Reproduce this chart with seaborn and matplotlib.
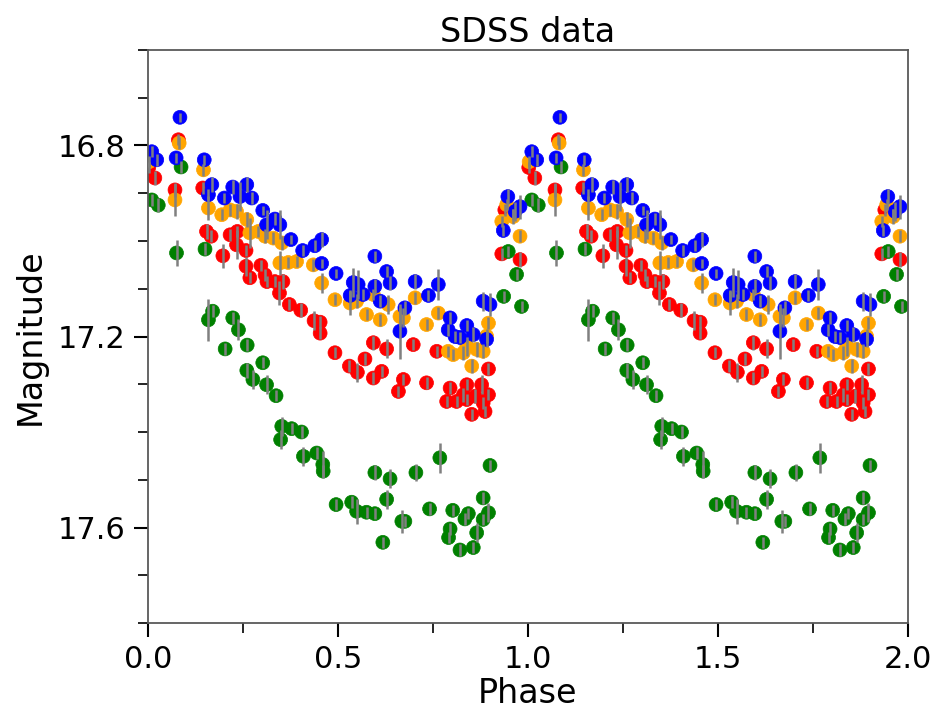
import numpy as np
import pandas as pd
import matplotlib
matplotlib.use("Agg")
import matplotlib.pyplot as plt
import seaborn as sns
from matplotlib.ticker import MultipleLocator

# ---- data (one cycle, phase in [0,1); plotted twice: phase and phase+1) ----
blue_phase = [0.010, 0.023, 0.084, 0.074, 0.148, 0.168, 0.159, 0.201, 0.223, 0.242,
              0.260, 0.273, 0.302, 0.312, 0.334, 0.347, 0.376, 0.407, 0.439, 0.457,
              0.457, 0.495, 0.532, 0.540, 0.553, 0.566, 0.597, 0.597, 0.611, 0.628,
              0.637, 0.663, 0.676, 0.703, 0.738, 0.764, 0.790, 0.795, 0.808, 0.821,
              0.839, 0.856, 0.882, 0.891, 0.900, 0.935, 0.947, 0.966, 0.979]
blue_mag = [16.813, 16.830, 16.741, 16.826, 16.830, 16.882, 16.903, 16.910, 16.887, 16.907,
            16.882, 16.910, 16.936, 16.966, 16.954, 16.966, 16.997, 17.020, 17.010, 16.997,
            17.047, 17.068, 17.114, 17.087, 17.091, 17.112, 17.032, 17.095, 17.126, 17.064,
            17.088, 17.189, 17.140, 17.085, 17.114, 17.091, 17.186, 17.161, 17.200, 17.202,
            17.177, 17.196, 17.126, 17.206, 17.133, 16.978, 16.907, 16.938, 16.928]
blue_err = [0.012, 0.012, 0.010, 0.010, 0.010, 0.015, 0.012, 0.010, 0.015, 0.030,
            0.015, 0.012, 0.010, 0.030, 0.012, 0.030, 0.010, 0.012, 0.012, 0.015,
            0.010, 0.010, 0.012, 0.030, 0.030, 0.012, 0.012, 0.015, 0.012, 0.012,
            0.015, 0.058, 0.015, 0.015, 0.012, 0.033, 0.012, 0.012, 0.012, 0.012,
            0.012, 0.015, 0.020, 0.015, 0.025, 0.012, 0.015, 0.020, 0.025]

orange_phase = [0.003, 0.071, 0.082, 0.146, 0.159, 0.194, 0.216, 0.233, 0.260, 0.268,
                0.290, 0.308, 0.330, 0.347, 0.352, 0.369, 0.391, 0.435, 0.457, 0.492,
                0.532, 0.549, 0.575, 0.593, 0.611, 0.632, 0.663, 0.672, 0.703, 0.733,
                0.764, 0.790, 0.803, 0.830, 0.839, 0.852, 0.865, 0.882, 0.891, 0.896,
                0.931, 0.944, 0.961, 0.979]
orange_mag = [16.834, 16.914, 16.795, 16.851, 16.931, 16.945, 16.935, 16.938, 16.955, 16.983,
              16.980, 16.990, 16.994, 17.046, 17.004, 17.045, 17.043, 17.050, 17.088, 17.123,
              17.130, 17.126, 17.154, 17.112, 17.165, 17.133, 17.158, 17.161, 17.119, 17.175,
              17.151, 17.231, 17.238, 17.234, 17.220, 17.262, 17.227, 17.231, 17.199, 17.172,
              16.959, 16.924, 16.949, 16.990]
orange_err = [0.012, 0.033, 0.012, 0.012, 0.025, 0.012, 0.012, 0.015, 0.015, 0.031,
              0.012, 0.015, 0.012, 0.025, 0.015, 0.012, 0.012, 0.012, 0.020, 0.012,
              0.025, 0.015, 0.012, 0.012, 0.012, 0.020, 0.020, 0.020, 0.012, 0.012,
              0.012, 0.012, 0.012, 0.015, 0.020, 0.015, 0.015, 0.015, 0.015, 0.012,
              0.012, 0.012, 0.015, 0.012]

red_phase = [0.002, 0.018, 0.071, 0.080, 0.144, 0.154, 0.166, 0.197, 0.216, 0.233,
             0.235, 0.258, 0.258, 0.268, 0.297, 0.308, 0.313, 0.334, 0.355, 0.346,
             0.372, 0.402, 0.437, 0.453, 0.453, 0.492, 0.530, 0.551, 0.571, 0.593,
             0.593, 0.615, 0.628, 0.659, 0.672, 0.698, 0.733, 0.760, 0.786, 0.795,
             0.812, 0.830, 0.839, 0.839, 0.852, 0.861, 0.878, 0.882, 0.887, 0.896,
             0.896, 0.931, 0.939, 0.961, 0.979]
red_mag = [16.846, 16.868, 16.893, 16.788, 16.889, 16.980, 16.990, 17.031, 16.987, 17.008,
           16.980, 17.020, 17.053, 17.077, 17.051, 17.071, 17.085, 17.085, 17.085, 17.109,
           17.133, 17.145, 17.167, 17.170, 17.193, 17.234, 17.262, 17.275, 17.247, 17.213,
           17.287, 17.273, 17.226, 17.315, 17.290, 17.217, 17.297, 17.231, 17.336, 17.308,
           17.336, 17.322, 17.301, 17.332, 17.363, 17.325, 17.301, 17.339, 17.357, 17.322,
           17.268, 17.027, 16.935, 16.945, 17.039]
red_err = [0.012, 0.015, 0.015, 0.012, 0.012, 0.015, 0.012, 0.025, 0.012, 0.030,
           0.012, 0.012, 0.020, 0.012, 0.012, 0.012, 0.012, 0.012, 0.015, 0.025,
           0.012, 0.015, 0.020, 0.012, 0.012, 0.012, 0.012, 0.020, 0.012, 0.015,
           0.012, 0.012, 0.020, 0.012, 0.012, 0.012, 0.012, 0.012, 0.012, 0.012,
           0.012, 0.015, 0.012, 0.012, 0.012, 0.015, 0.020, 0.012, 0.012, 0.012,
           0.012, 0.012, 0.012, 0.012, 0.015]

green_phase = [0.010, 0.027, 0.075, 0.087, 0.150, 0.159, 0.170, 0.203, 0.223, 0.238,
               0.260, 0.261, 0.276, 0.302, 0.312, 0.337, 0.352, 0.349, 0.378, 0.404,
               0.409, 0.444, 0.460, 0.461, 0.495, 0.536, 0.549, 0.575, 0.597, 0.597,
               0.618, 0.628, 0.637, 0.668, 0.676, 0.705, 0.741, 0.768, 0.791, 0.795,
               0.802, 0.821, 0.834, 0.843, 0.856, 0.865, 0.882, 0.882, 0.896, 0.900,
               0.936, 0.948, 0.970, 0.983]
green_mag = [16.914, 16.925, 17.025, 16.845, 17.017, 17.165, 17.147, 17.226, 17.161, 17.186,
             17.271, 17.218, 17.290, 17.255, 17.301, 17.324, 17.388, 17.416, 17.393, 17.400,
             17.451, 17.444, 17.468, 17.482, 17.552, 17.547, 17.566, 17.568, 17.571, 17.485,
             17.631, 17.541, 17.498, 17.587, 17.587, 17.485, 17.561, 17.454, 17.621, 17.603,
             17.564, 17.647, 17.582, 17.571, 17.642, 17.611, 17.538, 17.583, 17.569, 17.470,
             17.116, 17.022, 17.070, 17.137]
green_err = [0.012, 0.015, 0.028, 0.012, 0.012, 0.044, 0.012, 0.012, 0.012, 0.022,
             0.015, 0.012, 0.020, 0.012, 0.020, 0.012, 0.020, 0.020, 0.012, 0.012,
             0.020, 0.012, 0.028, 0.012, 0.012, 0.012, 0.026, 0.012, 0.012, 0.015,
             0.012, 0.020, 0.020, 0.024, 0.012, 0.017, 0.012, 0.031, 0.012, 0.012,
             0.012, 0.012, 0.012, 0.012, 0.012, 0.020, 0.012, 0.012, 0.020, 0.012,
             0.012, 0.012, 0.012, 0.012]

band_order = ["red", "green", "orange", "blue"]
band_colors = {"red": "red", "green": "green", "orange": "orange", "blue": "blue"}
x_ticks = [0.0, 0.5, 1.0, 1.5, 2.0]
x_ticklabels = ["0.0", "0.5", "1.0", "1.5", "2.0"]
y_ticks = [16.8, 17.2, 17.6]
y_ticklabels = ["16.8", "17.2", "17.6"]

series = {
    "blue": (blue_phase, blue_mag, blue_err),
    "orange": (orange_phase, orange_mag, orange_err),
    "red": (red_phase, red_mag, red_err),
    "green": (green_phase, green_mag, green_err),
}

frames = []
for band in band_order:
    ph, mg, er = series[band]
    for cycle in (0, 1):
        frames.append(pd.DataFrame({
            "phase": np.asarray(ph) + cycle,
            "mag": mg,
            "err": er,
            "band": band,
        }))
df = pd.concat(frames, ignore_index=True)

# ---- style ----
sns.set_theme(style="ticks", context="poster")
plt.rcParams["font.family"] = ["DejaVu Sans"]
plt.rcParams["text.color"] = "black"
plt.rcParams["axes.labelcolor"] = "black"
plt.rcParams["xtick.color"] = "black"
plt.rcParams["ytick.color"] = "black"

fig = plt.figure(figsize=(9.35, 7.13), dpi=100)
ax = fig.add_axes([0.1583, 0.1262, 0.8128, 0.8037])

sns.scatterplot(data=df, x="phase", y="mag", hue="band", hue_order=band_order,
                palette=band_colors, s=100, edgecolor="face", linewidth=0.5,
                legend=False, ax=ax, zorder=2)

for band in band_order:
    sub = df[df["band"] == band]
    ax.errorbar(sub["phase"], sub["mag"], yerr=sub["err"], fmt="none",
                ecolor="gray", elinewidth=1.8, capsize=0, zorder=3)

ax.set_xlim(0.0, 2.0)
ax.set_ylim(17.8, 16.6)
ax.set_xticks(x_ticks)
ax.set_xticklabels(x_ticklabels)
ax.set_yticks(y_ticks)
ax.set_yticklabels(y_ticklabels)
ax.xaxis.set_minor_locator(MultipleLocator(0.25))
ax.yaxis.set_minor_locator(MultipleLocator(0.1))
ax.tick_params(axis="both", which="major", length=10, width=1.5, labelsize=22,
               color="black", labelcolor="black", direction="out", pad=6)
ax.tick_params(axis="both", which="minor", length=7, width=1.2, color="black",
               direction="out")

for sp in ax.spines.values():
    sp.set_visible(True)
    sp.set_color("0.35")
    sp.set_linewidth(1.3)

ax.set_xlabel("Phase", fontsize=24, labelpad=2, color="black")
ax.set_ylabel("Magnitude", fontsize=24, labelpad=8, color="black")
ax.set_title("SDSS data", fontsize=24, pad=6, color="black")

fig.savefig("out.png", dpi=100, facecolor="white")
